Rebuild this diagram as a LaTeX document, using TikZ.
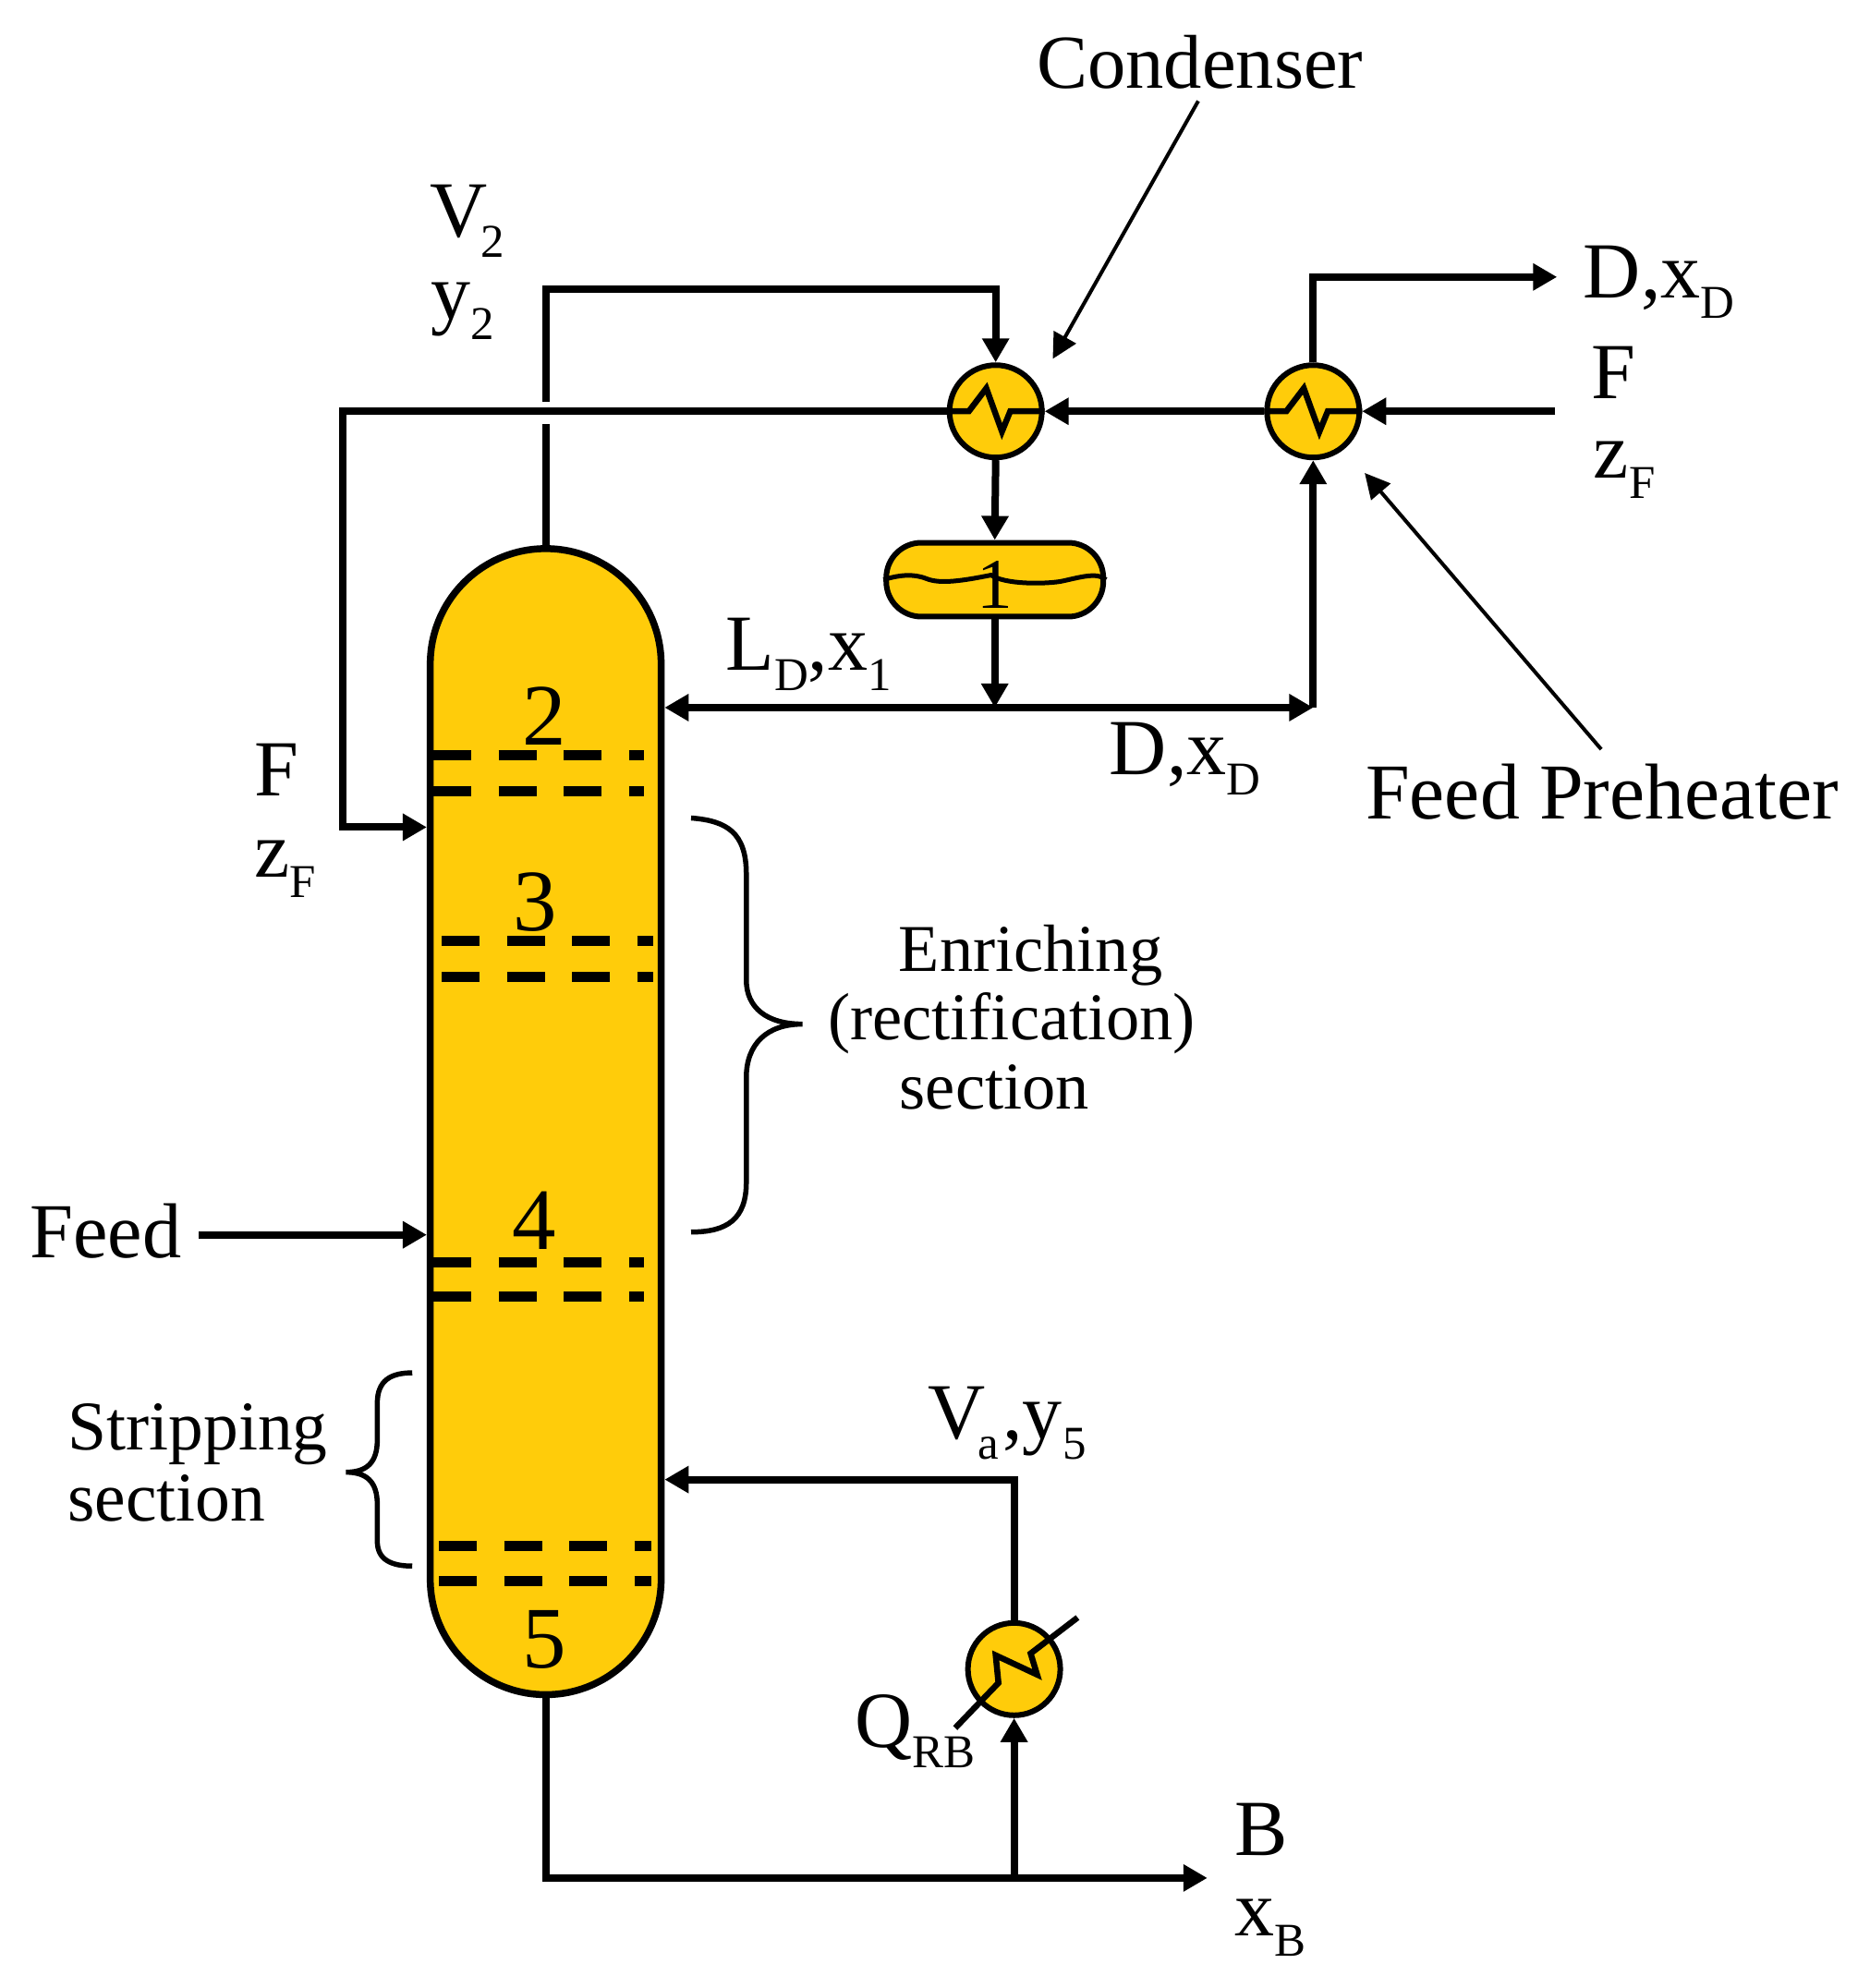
\documentclass[tikz,border=0pt]{standalone}
\usepackage{fontspec}
\setmainfont{Liberation Serif}
\usetikzlibrary{arrows.meta,shapes.geometric}
\newcommand{\lowtxt}[1]{\raisebox{-.22cm}{\fontsize{14.5}{16}\selectfont #1}}
\tikzset{
  vessel/.style={draw,fill=vesselcol,line width=.06cm,inner sep=0pt},
  pipeline/.style={line width=.08cm},
  pipe/.style={pipeline,-{Triangle[length=.26cm,width=.28cm]}},
  pointer/.style={line width=.04cm,-{Triangle[length=.27cm,width=.27cm]}},
  tray/.style={line width=.11cm,dash pattern=on .41cm off .295cm},
  zig/.style={line width=.065cm},
  curly/.style={line width=.055cm},
  lbl/.style={inner sep=0pt,anchor=base west,font=\fontsize{24.5}{28}\selectfont},
  sect/.style={inner sep=0pt,anchor=base west,font=\fontsize{20.6}{25}\selectfont},
  num/.style={inner sep=0pt,font=\fontsize{27}{30}\selectfont}
}
\definecolor{vesselcol}{RGB}{255,204,10}
\begin{document}
\begin{tikzpicture}[x=.00997cm,y=-.00996cm]
  \useasboundingbox (0,0) rectangle (2032,2160.6);
  % vessels
  \node[vessel,line width=.075cm,minimum width=2.5cm,minimum height=12.41cm,rounded corners=1.25cm] (column) at (593,1219) {};
  \node[vessel,circle,minimum size=1cm] (condenser) at (1082,447) {};
  \node[vessel,circle,minimum size=1cm] (preheater) at (1427,447) {};
  \node[vessel,circle,minimum size=1cm] (reboiler) at (1102,1814) {};
  \node[vessel,minimum width=2.35cm,minimum height=.8cm,rounded corners=.38cm] (drum) at (1081,630) {};
  % trays
  \foreach \ty in {821,860,1372,1409} {
    \draw[tray] (471,\ty) -- (700,\ty);
  }
  \foreach \ty in {1023,1062} {
    \draw[tray] (480,\ty) -- (710,\ty);
  }
  \foreach \ty in {1680,1718} {
    \draw[tray] (477,\ty) -- (708,\ty);
  }
  % overhead
  \coordinate (gapt) at (593,437);
  \coordinate (gapb) at (593,461);
  \draw[pipeline] (column.north) -- (gapb);
  \draw[pipe] (gapt) -- (593,314) -| (condenser.north);
  \draw[pipe] (condenser.south) -- (drum.north);
  % feed side
  \coordinate (fin) at (1690,447);
  \coordinate (dout) at (1692,301);
  \draw[pipe] (preheater.north) |- (dout);
  \draw[pipe] (fin) -- (preheater.east);
  \draw[pipe] (preheater.west) -- (condenser.east);
  \coordinate (fturn) at (372,899);
  \draw[pipe] (condenser.west) -| (fturn) -- (fturn -| column.west);
  % reflux and distillate
  \coordinate (split) at (1081,769);
  \draw[pipe] (drum.south) -- (split);
  \draw[pipe] (split) -- (split -| column.east);
  \draw[pipe] (split) -- (split -| preheater.south);
  \draw[pipe] (split -| preheater.south) -- (preheater.south);
  % feed
  \node[lbl,font=\fontsize{24}{28}\selectfont] (feedlbl) at (32,1367) {Feed};
  \coordinate (feedin) at (column.west |- 0,1342);
  \draw[pipe,shorten <=.18cm] (feedlbl.east |- feedin) -- (feedin);
  % bottoms
  \coordinate (bturn) at (593,2041);
  \coordinate (bout) at (1312,2041);
  \draw[pipe] (column.south) -- (bturn) -- (bout);
  \draw[pipe] (reboiler.south |- bturn) -- (reboiler.south);
  \coordinate (vturn) at (reboiler.north |- 0,1608);
  \draw[pipe] (reboiler.north) -- (vturn) -- (vturn -| column.east);
  % exchanger coils
  \foreach \hx in {condenser,preheater} {
    \draw[zig] (\hx.west) -- ++(24,0) -- ++(19,-25) -- ++(17,47) -- ++(9,-22) -- (\hx.east);
  }
  \draw[zig] (1038,1878) -- (1085,1829) -- (1082,1799) -- (1127,1820) -- (1120,1797) -- (1171,1758);
  \draw[line width=.05cm] (drum.west) .. controls (977,625) and (992,623) .. (1007,629) .. controls (1022,635) and (1047,631) .. (1077,625) .. controls (1092,635) and (1132,635) .. (1152,632) .. controls (1172,628) and (1192,621) .. (drum.east);
  % numbers
  \node[num,font=\fontsize{22}{25}\selectfont] (n1) at (1081,636) {1};
  \node[num] (n2) at (592,778) {2};
  \node[num] (n3) at (582,980) {3};
  \node[num] (n4) at (581,1327) {4};
  \node[num] (n5) at (592,1782) {5};
  % labels
  \node[lbl,anchor=base,font=\fontsize{23.5}{28}\selectfont] (condlbl) at (1304,96) {Condenser};
  \node[lbl,anchor=base,font=\fontsize{24.4}{28}\selectfont] (prelbl) at (1741,890) {Feed Preheater};
  \coordinate (condtip) at (1144,390);
  \coordinate (pretip) at (1483,514);
  \draw[pointer,shorten <=.14cm] ([xshift=.05cm]condlbl.south) -- (condtip);
  \draw[pointer,shorten <=.2cm] ([xshift=.12cm]prelbl.north) -- (pretip);
  \node[lbl] (v2) at (467,258) {V\lowtxt{\kern-.08cm 2}};
  \node[lbl] (y2) at (468,347) {y\lowtxt{2}};
  \node[lbl] (dtop) at (1720,324) {D,x\lowtxt{D}};
  \node[lbl] (ftop) at (1729,433) {F};
  \node[lbl] (ztop) at (1731,520) {z\lowtxt{F}};
  \node[lbl] (ld) at (788,728) {L\lowtxt{D},x\lowtxt{1}};
  \node[lbl] (dlow) at (1205,842) {D,x\lowtxt{D}};
  \node[lbl] (fleft) at (276,865) {F};
  \node[lbl] (zleft) at (276,953) {z\lowtxt{F}};
  \node[lbl] (va) at (1008,1564) {V\lowtxt{\kern-.08cm a}\kern.04cm,y\lowtxt{5}};
  \node[lbl] (qrb) at (928,1899) {Q\lowtxt{RB}};
  \node[lbl] (bb) at (1341,2016) {B};
  \node[lbl] (xb) at (1341,2104) {x\lowtxt{B}};
  \node[sect] (enr) at (976,1056) {Enriching};
  \node[sect] (rect) at (899,1130) {(rectification)};
  \node[sect] (sec1) at (977,1205) {section};
  \node[sect,font=\fontsize{21.5}{25}\selectfont] (strip) at (73,1576) {Stripping};
  \node[sect,font=\fontsize{21.5}{25}\selectfont] (sec2) at (73,1653) {section};
  % braces
  \draw[curly] (751,889) .. controls (790,892) and (811,905) .. (811,950) -- (811,1065) .. controls (811,1095) and (833,1113) .. (872,1113) .. controls (833,1113) and (811,1135) .. (811,1171) -- (811,1285) .. controls (811,1325) and (790,1339) .. (751,1339);
  \draw[curly] (448,1492) .. controls (425,1492) and (410,1500) .. (410,1525) -- (410,1565) .. controls (410,1590) and (398,1600) .. (376,1600) .. controls (398,1600) and (410,1610) .. (410,1635) -- (410,1675) .. controls (410,1695) and (425,1702) .. (448,1702);
\end{tikzpicture}
\end{document}
